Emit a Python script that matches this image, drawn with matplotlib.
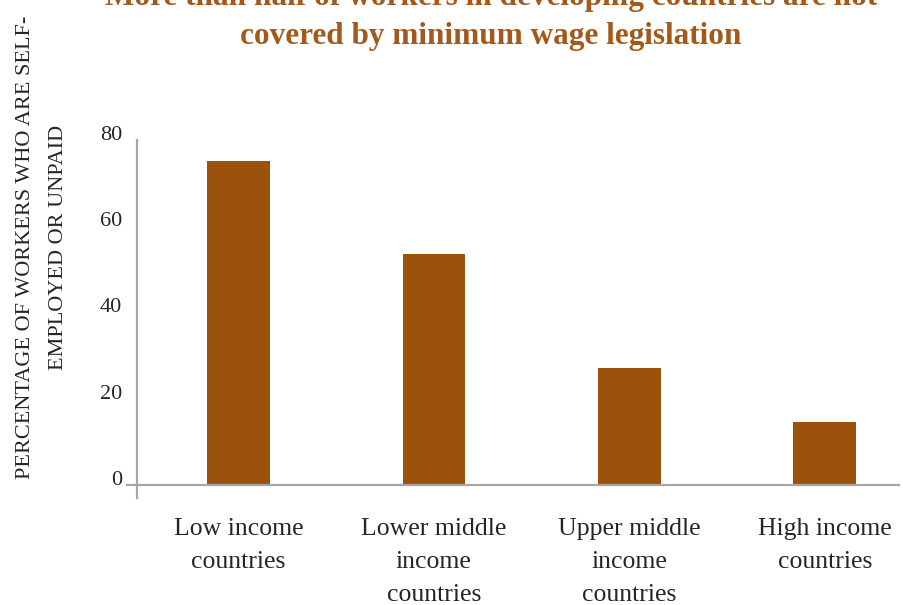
import matplotlib.pyplot as plt

categories = ['Low income\ncountries', 'Lower middle\nincome\ncountries',
              'Upper middle\nincome\ncountries', 'High income\ncountries']
shares = [75, 53.5, 27, 14.5]
yticks = [0, 20, 40, 60, 80]

title_lines = ['More than half of workers in developing countries are not',
               'covered by minimum wage legislation']
ylabel = 'PERCENTAGE OF WORKERS WHO ARE SELF-\nEMPLOYED OR UNPAID'

bar_color = '#9a520c'
title_color = '#a3591b'
axis_color = '#a6a6a6'
text_color = '#262626'

plt.rcParams['font.family'] = ['Liberation Serif', 'DejaVu Serif']

W, H = 904, 605
fig = plt.figure(figsize=(W / 100, H / 100), dpi=100)
ax = fig.add_axes([0.1405, 0.177, 0.854, 0.592])

# move spines first: set_position rebuilds the ticks
for side in ['top', 'right']:
    ax.spines[side].set_visible(False)
ax.spines['left'].set_position(('data', -0.517))
ax.spines['bottom'].set_position(('data', 0))
for side in ['left', 'bottom']:
    ax.spines[side].set_color(axis_color)
    ax.spines[side].set_linewidth(1.6)

x = list(range(len(categories)))
ax.bar(x, shares, width=0.32, color=bar_color, zorder=2)

ax.set_xlim(-0.57, 3.38)
ax.set_ylim(-3, 80)
ax.tick_params(axis='both', length=0, colors=text_color)
ax.tick_params(axis='x', pad=24, labelsize=18.5)
ax.tick_params(axis='y', pad=11, labelsize=16)
ax.set_xticks(x)
ax.set_xticklabels(categories, linespacing=1.64)
ax.set_yticks(yticks)
# numbers sit on their tick positions
ax.set_yticklabels([str(v) for v in yticks], va='baseline')

fig.text(42 / W, 1 - 247 / H, ylabel, rotation=90, ha='center', va='center',
         fontsize=16, linespacing=2.0, color=text_color, multialignment='center')

# two title lines, the first running off the top edge
fig.text(491 / W, 1 - 5 / H, title_lines[0], ha='center', va='baseline',
         fontsize=22.5, fontweight='bold', color=title_color)
fig.text(491 / W, 1 - 44 / H, title_lines[1], ha='center', va='baseline',
         fontsize=22.5, fontweight='bold', color=title_color)

fig.savefig('out.png', dpi=100)
